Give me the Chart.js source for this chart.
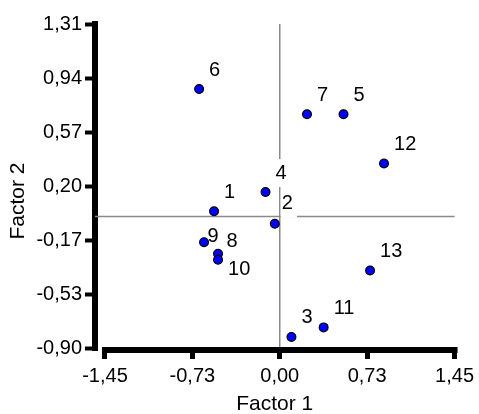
<!DOCTYPE html>
<html><head><meta charset="utf-8">
<script src="https://cdn.jsdelivr.net/npm/chart.js@4.4.1/dist/chart.umd.min.js"></script>
<style>html,body{margin:0;padding:0;background:#fff;}#c{display:block;}</style>
</head><body>
<canvas id="c" width="479" height="414"></canvas>
<script>
// ---- data ----
const pointLabels = ["1","2","3","4","5","6","7","8","9","10","11","12","13"];
const factor1 = [-0.545, -0.041, 0.097, -0.118, 0.529, -0.669, 0.226, -0.512, -0.628, -0.512, 0.364, 0.865, 0.749];
const factor2 = [0.035, -0.050, -0.820, 0.166, 0.696, 0.867, 0.696, -0.254, -0.175, -0.295, -0.755, 0.360, -0.368];
const xTickValues = [-1.45, -0.725, 0, 0.725, 1.45];
const xTickLabels = ["-1,45", "-0,73", "0,00", "0,73", "1,45"];
const yTickValues = [-0.9, -0.5317, -0.1633, 0.205, 0.5733, 0.9417, 1.31];
const yTickLabels = ["-0,90", "-0,53", "-0,17", "0,20", "0,57", "0,94", "1,31"];
const xTitle = "Factor 1";
const yTitle = "Factor 2";

// ---- presentation ----
const FONT = "Arial, 'Liberation Sans', sans-serif";
const FS = 20;
const TFS = 21;
const labelPlace = { def:{dx:10,dy:-19}, "9":{dx:3.5,dy:-6}, "8":{dx:8.5,dy:-12.5}, "10":{dx:10,dy:10}, "2":{dx:7,dy:-20} };

const overlay = {
  id: 'overlay',
  beforeDatasetsDraw(chart) {
    const {ctx, chartArea: a, scales: {x, y}} = chart;
    ctx.save();
    ctx.strokeStyle = '#8a8a8a';
    ctx.lineWidth = 1.5;
    const x0 = x.getPixelForValue(0), y0 = y.getPixelForValue(0);
    ctx.beginPath(); ctx.moveTo(x0, a.top); ctx.lineTo(x0, a.bottom); ctx.stroke();
    ctx.beginPath(); ctx.moveTo(a.left, y0); ctx.lineTo(x.getPixelForValue(xTickValues[xTickValues.length-1]), y0); ctx.stroke();
    ctx.font = FS + 'px ' + FONT;
    ctx.textBaseline = 'middle';
    ctx.textAlign = 'left';
    chart.getDatasetMeta(0).data.forEach((pt, i) => {
      const t = pointLabels[i];
      const o = labelPlace[t] || labelPlace.def;
      const tx = pt.x + o.dx, ty = pt.y + o.dy;
      const w = ctx.measureText(t).width;
      ctx.fillStyle = '#fff';
      ctx.fillRect(tx - 1, ty - 14, w + 5, 28);
      ctx.fillStyle = '#000';
      ctx.fillText(t, tx, ty);
    });
    ctx.restore();
  },
  afterDraw(chart) {
    const {ctx, chartArea: a, scales: {x}} = chart;
    ctx.save();
    const xl = x.getPixelForValue(xTickValues[0]) - 3;
    const xr = x.getPixelForValue(xTickValues[xTickValues.length-1]) + 3;
    ctx.fillStyle = '#000';
    ctx.fillRect(xl, a.bottom - 3, xr - xl, 6);
    ctx.translate(18, 201);
    ctx.rotate(-Math.PI / 2);
    ctx.font = TFS + 'px ' + FONT;
    ctx.textAlign = 'center';
    ctx.textBaseline = 'middle';
    ctx.fillText(yTitle, 0, 0);
    ctx.restore();
  }
};

new Chart(document.getElementById('c'), {
  type: 'scatter',
  data: {
    datasets: [{
      data: factor1.map((v, i) => ({x: v, y: factor2[i]})),
      backgroundColor: '#0000ff',
      borderColor: '#000',
      borderWidth: 1.2,
      pointRadius: 4.4,
      pointHoverRadius: 4.4
    }]
  },
  options: {
    responsive: false,
    animation: false,
    events: [],
    layout: { padding: { left: 0, top: 24, right: 23, bottom: 0 } },
    plugins: { legend: { display: false }, tooltip: { enabled: false } },
    scales: {
      x: {
        type: 'linear', bounds: 'data', min: -1.5326, max: 1.45,
        afterBuildTicks(s) { s.ticks = xTickValues.map(v => ({value: v})); },
        afterFit(s) { s.height = 64; },
        ticks: { autoSkip: false, maxRotation: 0, minRotation: 0, padding: 5, color: '#000',
                 font: { size: FS, family: FONT }, callback: (v, i) => xTickLabels[i] },
        grid: { drawOnChartArea: false, drawTicks: true, tickLength: 9, tickWidth: 5, tickColor: '#000' },
        border: { display: false },
        title: { display: true, text: xTitle, color: '#000', font: { size: TFS, family: FONT, lineHeight: 1 }, padding: { top: 0, bottom: -1 } }
      },
      y: {
        type: 'linear', bounds: 'data', min: -0.909, max: 1.31,
        afterBuildTicks(s) { s.ticks = yTickValues.map(v => ({value: v})); },
        afterFit(s) { s.width = 95; },
        ticks: { autoSkip: false, padding: 3, color: '#000',
                 font: { size: FS, family: FONT }, callback: (v, i) => yTickLabels[i] },
        grid: { drawOnChartArea: false, drawTicks: true, tickLength: 10, tickWidth: 4, tickColor: '#000' },
        border: { display: true, width: 6, color: '#000' }
      }
    }
  },
  plugins: [overlay]
});
</script>
</body></html>
